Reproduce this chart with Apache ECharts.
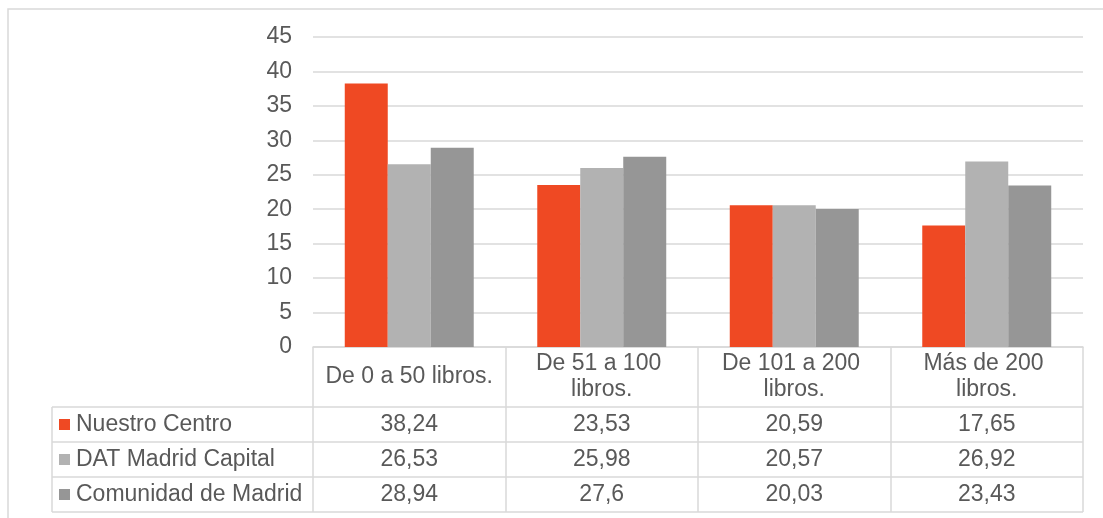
<!DOCTYPE html>
<html>
<head>
<meta charset="utf-8">
<script src="https://cdn.jsdelivr.net/npm/echarts@6/dist/echarts.min.js"></script>
<style>
  html, body { margin: 0; padding: 0; background: #fff; }
  #chart { width: 1103px; height: 518px; }
</style>
</head>
<body>
<div id="chart"></div>
<script>
// datos
const categories = ["De 0 a 50 libros.", "De 51 a 100 libros.", "De 101 a 200 libros.", "Más de 200 libros."];
const seriesNames = ["Nuestro Centro", "DAT Madrid Capital", "Comunidad de Madrid"];
const nuestroCentro = [38.24, 23.53, 20.59, 17.65];
const datMadrid = [26.53, 25.98, 20.57, 26.92];
const comunidadMadrid = [28.94, 27.6, 20.03, 23.43];
const yTicks = { min: 0, max: 45, interval: 5 };

const colors = ["#EF4923", "#B2B2B2", "#969696"];
const allData = [nuestroCentro, datMadrid, comunidadMadrid];
const textColor = "#595959";
const lineColor = "#D9D9D9";
const font = "'Liberation Sans', Arial, sans-serif";
const fs = 23;

const gridLeft = 313, gridRight = 20, gridTop = 37, gridBottom = 171;
const headerY = 347, rowH = 35, rowsTop = 407, tableLeft = 52;

const chart = echarts.init(document.getElementById("chart"));

let option = {
  animation: false,
  textStyle: { fontFamily: font },
  grid: { left: gridLeft, right: gridRight, top: gridTop, bottom: gridBottom },
  xAxis: {
    type: "category",
    data: categories,
    axisLine: { show: true, lineStyle: { color: lineColor, width: 1.5 } },
    axisTick: { show: true, length: rowsTop - headerY + rowH * 3, interval: 0, lineStyle: { color: lineColor, width: 1.5 } },
    axisLabel: {
      interval: 0, margin: 30, verticalAlign: "middle",
      color: textColor, fontSize: fs, fontFamily: font,
      width: 180, overflow: "break", lineHeight: 26
    }
  },
  yAxis: {
    type: "value",
    min: yTicks.min, max: yTicks.max, interval: yTicks.interval,
    axisLine: { show: false },
    axisTick: { show: false },
    axisLabel: { color: textColor, fontSize: fs, fontFamily: font, margin: 21 },
    splitLine: { lineStyle: { color: lineColor, width: 1.5 } }
  },
  series: seriesNames.map((name, i) => ({
    name: name,
    type: "bar",
    data: allData[i],
    barGap: 0,
    barCategoryGap: "33%",
    itemStyle: { color: colors[i] }
  }))
};
chart.setOption(option);

// tabla de datos debajo del eje
const graphics = [];
graphics.push({
  type: "rect", shape: { x: 8, y: 9, width: 1200, height: 600 },
  style: { fill: null, stroke: lineColor, lineWidth: 1.5 }, z: 0
});
for (let r = 0; r <= 3; r++) {
  const y = rowsTop + r * rowH;
  graphics.push({
    type: "line", shape: { x1: tableLeft, y1: y, x2: 1103 - gridRight, y2: y },
    style: { stroke: lineColor, lineWidth: 1.5 }
  });
}
graphics.push({
  type: "line", shape: { x1: tableLeft, y1: rowsTop, x2: tableLeft, y2: rowsTop + 3 * rowH },
  style: { stroke: lineColor, lineWidth: 1.5 }
});
seriesNames.forEach((name, i) => {
  const cy = rowsTop + i * rowH + rowH / 2;
  graphics.push({
    type: "rect", shape: { x: 59, y: cy - 5.5, width: 11, height: 11 },
    style: { fill: colors[i] }
  });
  graphics.push({
    type: "text", x: 76, y: cy,
    style: { text: name, fill: textColor, font: fs + "px " + font, verticalAlign: "middle", align: "left" }
  });
  allData[i].forEach((v, j) => {
    const px = chart.convertToPixel({ xAxisIndex: 0 }, categories[j]);
    graphics.push({
      type: "text", x: px, y: cy,
      style: { text: String(v).replace(".", ","), fill: textColor, font: fs + "px " + font, verticalAlign: "middle", align: "center" }
    });
  });
});
chart.setOption({ graphic: graphics });
</script>
</body>
</html>
